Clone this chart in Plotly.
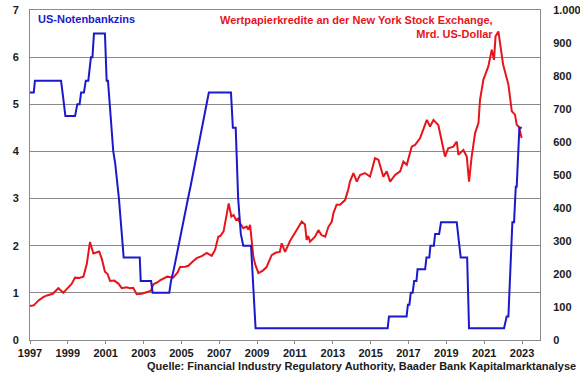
import plotly.graph_objects as go

# --- Data ---------------------------------------------------------------
# US federal funds target rate (%), left axis
fed_years = [1997.0, 1997.2, 1997.26, 1998.64, 1998.72, 1998.8, 1998.87, 1999.38, 1999.5, 1999.62,
             1999.7, 1999.85, 1999.95, 2000.08, 2000.15, 2000.22, 2000.3, 2000.38, 2000.96, 2001.05,
             2001.12, 2001.3, 2001.4, 2001.5, 2001.58, 2001.7, 2001.8, 2001.88, 2001.95, 2002.8,
             2002.85, 2003.4, 2003.48, 2004.36, 2004.45, 2004.6, 2004.72, 2004.85, 2004.97, 2005.1,
             2005.22, 2005.35, 2005.48, 2005.6, 2005.72, 2005.85, 2005.97, 2006.1, 2006.22, 2006.35,
             2006.45, 2007.62, 2007.68, 2007.72, 2007.87, 2008.0, 2008.14, 2008.27, 2008.68, 2008.8,
             2008.92, 2015.9, 2015.97, 2016.9, 2016.97, 2017.05, 2017.12, 2017.22, 2017.3, 2017.42,
             2017.48, 2017.88, 2017.95, 2018.1, 2018.16, 2018.34, 2018.41, 2018.62, 2018.72, 2018.88,
             2019.55, 2019.62, 2019.7, 2019.76, 2020.1, 2020.2, 2022.05, 2022.19, 2022.28, 2022.49,
             2022.58, 2022.67, 2022.72, 2022.86, 2022.99]
fed_rate = [5.25, 5.25, 5.5, 5.5, 5.25, 5.0, 4.75, 4.75, 5.0, 5.0,
            5.25, 5.25, 5.5, 5.5, 5.75, 6.0, 6.0, 6.5, 6.5, 5.5,
            5.5, 4.5, 4.0, 3.75, 3.5, 3.0, 2.5, 2.0, 1.75, 1.75,
            1.25, 1.25, 1.0, 1.0, 1.25, 1.5, 1.75, 2.0, 2.25, 2.5,
            2.75, 3.0, 3.25, 3.5, 3.75, 4.0, 4.25, 4.5, 4.75, 5.0,
            5.25, 5.25, 4.75, 4.5, 4.5, 3.0, 2.25, 2.0, 2.0, 1.0,
            0.25, 0.25, 0.5, 0.5, 0.75, 0.75, 1.0, 1.0, 1.25, 1.25,
            1.5, 1.5, 1.75, 1.75, 2.0, 2.0, 2.25, 2.25, 2.5, 2.5,
            2.5, 2.25, 2.0, 1.75, 1.75, 0.25, 0.25, 0.5, 0.5, 2.5,
            2.5, 3.25, 3.25, 4.5, 4.5]

# NYSE margin debt (bn USD), right axis
margin_years = [1997.0, 1997.2, 1997.45, 1997.7, 1997.9, 1998.2, 1998.5, 1998.76, 1998.95, 1999.2,
                1999.38, 1999.6, 1999.82, 2000.0, 2000.17, 2000.35, 2000.5, 2000.66, 2000.8, 2000.96,
                2001.1, 2001.23, 2001.45, 2001.67, 2001.85, 2002.1, 2002.29, 2002.45, 2002.64, 2002.9,
                2003.25, 2003.4, 2003.52, 2003.75, 2003.87, 2004.05, 2004.25, 2004.4, 2004.57, 2004.8,
                2004.93, 2005.2, 2005.37, 2005.6, 2005.81, 2006.1, 2006.34, 2006.6, 2006.78, 2006.95,
                2007.05, 2007.23, 2007.35, 2007.5, 2007.64, 2007.76, 2007.88, 2008.0, 2008.1, 2008.27,
                2008.45, 2008.54, 2008.63, 2008.72, 2008.8, 2008.9, 2009.07, 2009.3, 2009.5, 2009.77,
                2010.0, 2010.2, 2010.3, 2010.48, 2010.74, 2011.1, 2011.36, 2011.53, 2011.62, 2011.7,
                2011.8, 2012.06, 2012.24, 2012.4, 2012.6, 2012.77, 2012.95, 2013.03, 2013.2, 2013.38,
                2013.65, 2013.82, 2013.91, 2014.09, 2014.27, 2014.44, 2014.7, 2014.97, 2015.23, 2015.41,
                2015.67, 2015.85, 2016.03, 2016.29, 2016.56, 2016.73, 2016.91, 2017.17, 2017.35, 2017.61,
                2017.97, 2018.14, 2018.32, 2018.58, 2018.76, 2018.93, 2019.1, 2019.37, 2019.55, 2019.64,
                2019.9, 2020.08, 2020.2, 2020.34, 2020.52, 2020.7, 2020.78, 2020.96, 2021.22, 2021.4,
                2021.52, 2021.6, 2021.75, 2021.84, 2022.0, 2022.28, 2022.46, 2022.63, 2022.72, 2022.85,
                2022.98]
margin_debt = [103, 105, 120, 130, 135, 140, 157, 143, 155, 170,
               189, 188, 192, 230, 297, 262, 265, 268, 245, 207,
               200, 179, 180, 171, 157, 160, 157, 158, 139, 140,
               146, 150, 169, 175, 181, 186, 192, 191, 189, 205,
               221, 222, 225, 238, 248, 255, 264, 255, 273, 313,
               315, 329, 365, 414, 374, 379, 364, 368, 354, 339,
               344, 334, 349, 294, 253, 229, 203, 210, 221, 257,
               265, 267, 293, 267, 300, 334, 359, 350, 303, 315,
               298, 313, 333, 318, 313, 343, 359, 384, 410, 410,
               424, 457, 480, 506, 480, 500, 506, 495, 551, 546,
               495, 511, 480, 500, 511, 541, 531, 586, 591, 611,
               667, 647, 667, 651, 607, 556, 581, 586, 601, 561,
               576, 556, 480, 556, 627, 658, 728, 789, 829, 880,
               849, 920, 935, 900, 835, 774, 693, 683, 652, 645,
               612]

x_ticks = list(range(1997, 2024, 2))
left_ticks = [0, 1, 2, 3, 4, 5, 6, 7]
right_ticks = [0, 100, 200, 300, 400, 500, 600, 700, 800, 900, 1000]
right_tick_labels = ["0", "100", "200", "300", "400", "500", "600", "700", "800", "900", "1.000"]

# --- Figure -------------------------------------------------------------
FONT = "Liberation Sans, Arial, sans-serif"
GRID = "#8a8a8a"
RED = "#e8141c"
BLUE = "#1a1acc"

fig = go.Figure()
fig.add_trace(go.Scatter(x=margin_years, y=margin_debt, mode="lines", yaxis="y",
                         line=dict(color=RED, width=2), name="Wertpapierkredite"))
fig.add_trace(go.Scatter(x=fed_years, y=fed_rate, mode="lines", yaxis="y2",
                         line=dict(color=BLUE, width=2), name="US-Notenbankzins"))

tickfont = dict(family=FONT, size=11, color="#1a1a1a", weight="bold")

fig.update_layout(
    width=580, height=375,
    margin=dict(l=30, r=40, t=10, b=35),
    paper_bgcolor="white", plot_bgcolor="white",
    showlegend=False,
    font=dict(family=FONT, size=11, color="#1a1a1a"),
    xaxis=dict(range=[1997, 2023.95], tickvals=x_ticks, ticktext=[str(v) for v in x_ticks],
               showgrid=False, zeroline=False, showline=True, linecolor=GRID, linewidth=1,
               mirror=True, ticks="outside", ticklen=3, tickcolor=GRID,
               tickfont=tickfont, automargin=False),
    yaxis=dict(range=[0, 1000], side="right", tickvals=right_ticks, ticktext=right_tick_labels,
               showgrid=False, zeroline=False, showline=True, linecolor=GRID, linewidth=1,
               ticks="", ticklabelstandoff=10, tickfont=tickfont, automargin=False),
    yaxis2=dict(range=[0, 7], side="left", overlaying="y", tickvals=left_ticks,
                ticktext=[str(v) for v in left_ticks],
                showgrid=True, gridcolor=GRID, gridwidth=1, zeroline=False,
                showline=True, linecolor=GRID, linewidth=1, ticks="",
                ticklabelstandoff=8, tickfont=tickfont, automargin=False),
)

fig.add_annotation(text="<b>US-Notenbankzins</b>", xref="paper", yref="paper",
                   x=0.012, y=0.973, xanchor="left", yanchor="middle", showarrow=False,
                   font=dict(family=FONT, size=11, color=BLUE))
fig.add_annotation(text="<b>Wertpapierkredite an der New York Stock Exchange,<br>Mrd. US-Dollar</b>",
                   xref="paper", yref="paper", x=0.912, y=0.995, xanchor="right", yanchor="top",
                   align="right", showarrow=False,
                   font=dict(family=FONT, size=11, color=RED))
fig.add_annotation(text="<b>Quelle: Financial Industry Regulatory Authority, Baader Bank Kapitalmarktanalyse</b>",
                   xref="paper", yref="paper", x=1.0745, y=-0.079, xanchor="right", yanchor="middle",
                   showarrow=False, font=dict(family=FONT, size=11, color="#1a1a1a"))

fig.write_html("out.html", config={"displayModeBar": False},
               post_script="document.body.style.margin='0';document.body.style.overflow='hidden';")
